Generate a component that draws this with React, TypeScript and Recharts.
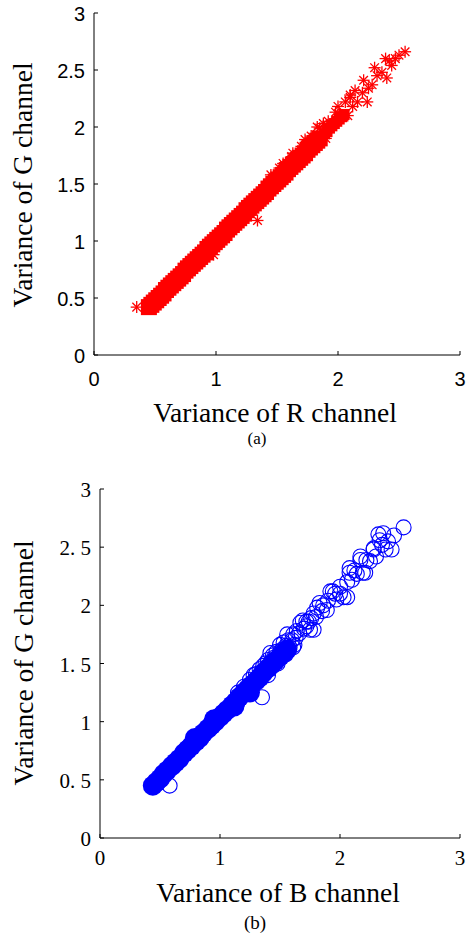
import React from 'react';
import { ScatterChart, Scatter, XAxis, YAxis } from 'recharts';

// ---------- data ----------
const axisTicks = [0, 0.5, 1, 1.5, 2, 2.5, 3];
const xTicks = [0, 1, 2, 3];

const labelA_x = 'Variance of R channel';
const labelB_x = 'Variance of B channel';
const labelY = 'Variance of G channel';
const captionA = '(a)';
const captionB = '(b)';

// (a) R vs G: dense core of the cloud
const redDense = [
  { x: 0.45, y: 0.42 }, { x: 0.47, y: 0.44 }, { x: 0.49, y: 0.46 }, { x: 0.51, y: 0.48 },
  { x: 0.53, y: 0.5 }, { x: 0.55, y: 0.52 }, { x: 0.57, y: 0.54 }, { x: 0.59, y: 0.57 },
  { x: 0.61, y: 0.59 }, { x: 0.63, y: 0.61 }, { x: 0.65, y: 0.63 }, { x: 0.67, y: 0.65 },
  { x: 0.69, y: 0.67 }, { x: 0.71, y: 0.69 }, { x: 0.73, y: 0.71 }, { x: 0.75, y: 0.74 },
  { x: 0.77, y: 0.76 }, { x: 0.79, y: 0.78 }, { x: 0.81, y: 0.8 }, { x: 0.83, y: 0.82 },
  { x: 0.85, y: 0.84 }, { x: 0.87, y: 0.86 }, { x: 0.89, y: 0.88 }, { x: 0.91, y: 0.9 },
  { x: 0.93, y: 0.93 }, { x: 0.95, y: 0.95 }, { x: 0.97, y: 0.97 }, { x: 0.99, y: 0.99 },
  { x: 1.01, y: 1.01 }, { x: 1.03, y: 1.03 }, { x: 1.05, y: 1.05 }, { x: 1.07, y: 1.07 },
  { x: 1.09, y: 1.1 }, { x: 1.11, y: 1.12 }, { x: 1.13, y: 1.14 }, { x: 1.15, y: 1.16 },
  { x: 1.17, y: 1.18 }, { x: 1.19, y: 1.2 }, { x: 1.21, y: 1.22 }, { x: 1.23, y: 1.24 },
  { x: 1.25, y: 1.27 }, { x: 1.27, y: 1.29 }, { x: 1.29, y: 1.31 }, { x: 1.31, y: 1.33 },
  { x: 1.33, y: 1.35 }, { x: 1.35, y: 1.37 }, { x: 1.37, y: 1.39 }, { x: 1.39, y: 1.41 },
  { x: 1.41, y: 1.43 }, { x: 1.43, y: 1.46 }, { x: 1.45, y: 1.48 }, { x: 1.47, y: 1.5 },
  { x: 1.49, y: 1.52 }, { x: 1.51, y: 1.54 }, { x: 1.53, y: 1.56 }, { x: 1.55, y: 1.58 },
  { x: 1.57, y: 1.6 }, { x: 1.59, y: 1.63 }, { x: 1.61, y: 1.65 }, { x: 1.63, y: 1.67 },
  { x: 1.65, y: 1.69 }, { x: 1.67, y: 1.71 }, { x: 1.69, y: 1.73 }, { x: 1.71, y: 1.75 },
  { x: 1.73, y: 1.77 }, { x: 1.75, y: 1.8 }, { x: 1.77, y: 1.82 }, { x: 1.79, y: 1.84 },
  { x: 1.81, y: 1.86 }, { x: 1.83, y: 1.88 }, { x: 1.85, y: 1.9 },
];
const redDenseUpper = [
  { x: 1.87, y: 1.92 }, { x: 1.89, y: 1.94 }, { x: 1.91, y: 1.96 }, { x: 1.93, y: 1.99 },
  { x: 1.95, y: 2.01 }, { x: 1.97, y: 2.03 }, { x: 1.99, y: 2.05 }, { x: 2.01, y: 2.07 },
  { x: 2.03, y: 2.09 }, { x: 2.05, y: 2.11 },
];
const redSparse = [
  { x: 0.35, y: 0.42 }, { x: 0.98, y: 0.88 }, { x: 1.34, y: 1.18 },
  { x: 1.45, y: 1.58 }, { x: 1.52, y: 1.64 }, { x: 1.55, y: 1.68 }, { x: 1.58, y: 1.62 },
  { x: 1.62, y: 1.74 }, { x: 1.63, y: 1.77 }, { x: 1.68, y: 1.74 }, { x: 1.7, y: 1.83 },
  { x: 1.73, y: 1.89 }, { x: 1.78, y: 1.92 }, { x: 1.83, y: 2.0 }, { x: 1.85, y: 1.99 },
  { x: 1.88, y: 2.03 }, { x: 1.9, y: 1.9 }, { x: 1.92, y: 2.05 }, { x: 1.98, y: 2.13 },
  { x: 2.0, y: 2.18 }, { x: 2.04, y: 2.09 }, { x: 2.06, y: 2.22 }, { x: 2.08, y: 2.1 },
  { x: 2.1, y: 2.28 }, { x: 2.1, y: 2.26 }, { x: 2.12, y: 2.18 }, { x: 2.14, y: 2.32 },
  { x: 2.16, y: 2.22 }, { x: 2.2, y: 2.3 }, { x: 2.21, y: 2.41 }, { x: 2.24, y: 2.22 },
  { x: 2.25, y: 2.34 }, { x: 2.28, y: 2.37 }, { x: 2.3, y: 2.52 }, { x: 2.32, y: 2.45 },
  { x: 2.36, y: 2.48 }, { x: 2.39, y: 2.6 }, { x: 2.4, y: 2.43 }, { x: 2.42, y: 2.58 },
  { x: 2.44, y: 2.54 }, { x: 2.47, y: 2.6 }, { x: 2.5, y: 2.63 }, { x: 2.55, y: 2.66 },
];

// (b) B vs G
const blueDense = [
  { x: 0.44, y: 0.45 }, { x: 0.47, y: 0.48 }, { x: 0.5, y: 0.51 }, { x: 0.53, y: 0.55 },
  { x: 0.56, y: 0.58 }, { x: 0.6, y: 0.62 }, { x: 0.63, y: 0.65 }, { x: 0.66, y: 0.68 },
  { x: 0.7, y: 0.73 }, { x: 0.73, y: 0.76 }, { x: 0.76, y: 0.79 }, { x: 0.79, y: 0.86 },
  { x: 0.8, y: 0.83 }, { x: 0.83, y: 0.86 }, { x: 0.86, y: 0.9 }, { x: 0.9, y: 0.94 },
  { x: 0.93, y: 0.97 }, { x: 0.95, y: 1.02 }, { x: 0.96, y: 1.0 }, { x: 1.0, y: 1.04 },
  { x: 1.03, y: 1.07 }, { x: 1.06, y: 1.1 }, { x: 1.1, y: 1.14 }, { x: 1.12, y: 1.13 },
  { x: 1.13, y: 1.17 }, { x: 1.16, y: 1.21 }, { x: 1.2, y: 1.25 }, { x: 1.23, y: 1.28 },
  { x: 1.25, y: 1.25 }, { x: 1.26, y: 1.31 }, { x: 1.3, y: 1.35 }, { x: 1.33, y: 1.38 },
  { x: 1.36, y: 1.42 }, { x: 1.4, y: 1.46 }, { x: 1.43, y: 1.49 }, { x: 1.46, y: 1.52 },
  { x: 1.5, y: 1.56 }, { x: 1.53, y: 1.59 }, { x: 1.56, y: 1.62 },
];
const blueSparse = [
  { x: 0.58, y: 0.45 }, { x: 1.35, y: 1.21 }, { x: 1.15, y: 1.25 }, { x: 1.2, y: 1.3 },
  { x: 1.25, y: 1.36 }, { x: 1.28, y: 1.4 }, { x: 1.3, y: 1.41 }, { x: 1.33, y: 1.45 },
  { x: 1.36, y: 1.48 }, { x: 1.38, y: 1.5 }, { x: 1.4, y: 1.4 }, { x: 1.4, y: 1.53 },
  { x: 1.42, y: 1.59 }, { x: 1.44, y: 1.57 }, { x: 1.45, y: 1.55 }, { x: 1.47, y: 1.6 },
  { x: 1.48, y: 1.5 }, { x: 1.5, y: 1.6 }, { x: 1.5, y: 1.66 }, { x: 1.52, y: 1.62 },
  { x: 1.53, y: 1.68 }, { x: 1.55, y: 1.58 }, { x: 1.55, y: 1.65 }, { x: 1.56, y: 1.75 },
  { x: 1.57, y: 1.7 }, { x: 1.58, y: 1.64 }, { x: 1.6, y: 1.7 }, { x: 1.61, y: 1.75 },
  { x: 1.61, y: 1.64 }, { x: 1.62, y: 1.66 }, { x: 1.63, y: 1.72 }, { x: 1.64, y: 1.78 },
  { x: 1.66, y: 1.76 }, { x: 1.67, y: 1.85 }, { x: 1.69, y: 1.87 }, { x: 1.7, y: 1.8 },
  { x: 1.72, y: 1.86 }, { x: 1.72, y: 1.82 }, { x: 1.74, y: 1.86 }, { x: 1.75, y: 1.79 },
  { x: 1.76, y: 1.89 }, { x: 1.78, y: 1.93 }, { x: 1.78, y: 1.79 }, { x: 1.8, y: 1.9 },
  { x: 1.81, y: 1.98 }, { x: 1.83, y: 2.02 }, { x: 1.85, y: 1.95 }, { x: 1.86, y: 2.0 },
  { x: 1.89, y: 1.96 }, { x: 1.9, y: 2.04 }, { x: 1.92, y: 2.12 }, { x: 1.94, y: 2.12 },
  { x: 1.96, y: 2.1 }, { x: 1.97, y: 2.05 }, { x: 2.0, y: 2.16 }, { x: 2.0, y: 2.1 },
  { x: 2.03, y: 2.07 }, { x: 2.06, y: 2.2 }, { x: 2.06, y: 2.07 }, { x: 2.08, y: 2.28 },
  { x: 2.08, y: 2.32 }, { x: 2.1, y: 2.22 }, { x: 2.12, y: 2.3 }, { x: 2.14, y: 2.27 },
  { x: 2.17, y: 2.39 }, { x: 2.17, y: 2.42 }, { x: 2.19, y: 2.28 }, { x: 2.21, y: 2.28 },
  { x: 2.22, y: 2.39 }, { x: 2.25, y: 2.38 }, { x: 2.28, y: 2.48 }, { x: 2.28, y: 2.49 },
  { x: 2.3, y: 2.42 }, { x: 2.32, y: 2.61 }, { x: 2.33, y: 2.56 }, { x: 2.35, y: 2.52 },
  { x: 2.36, y: 2.62 }, { x: 2.38, y: 2.48 }, { x: 2.4, y: 2.55 }, { x: 2.43, y: 2.48 },
  { x: 2.45, y: 2.6 }, { x: 2.53, y: 2.67 },
];

// ---------- styles ----------
const SANS = '"Liberation Sans", Arial, sans-serif';
const SERIF = '"Liberation Serif", "Times New Roman", serif';
const RED = '#ff0000';
const BLUE = '#0000ff';
const TL = 4;

const fmtA = (v: number) => String(v);
const fmtB = (v: number) => String(v).replace('.', '. ');

const bottomTick = (font: string, size: number, dy: number, fmt: (v: number) => string) => (p: any) => (
  <g>
    <line x1={p.x} y1={p.y} x2={p.x} y2={p.y - TL} stroke="#000" strokeWidth={1} />
    <text x={p.x} y={p.y + dy} textAnchor="middle" fontFamily={font} fontSize={size} fill="#000">
      {fmt(p.payload.value)}
    </text>
  </g>
);
const leftTick = (font: string, size: number, dx: number, fmt: (v: number) => string) => (p: any) => (
  <g>
    <line x1={p.x} y1={p.y} x2={p.x + TL} y2={p.y} stroke="#000" strokeWidth={1} />
    <text x={p.x - dx} y={p.y + 8} textAnchor="end" fontFamily={font} fontSize={size} fill="#000">
      {fmt(p.payload.value)}
    </text>
  </g>
);
const topTick = (p: any) => (
  <line x1={p.x} y1={p.y} x2={p.x} y2={p.y + TL} stroke="#000" strokeWidth={1} />
);
const rightTick = (p: any) => (
  <line x1={p.x} y1={p.y} x2={p.x - TL} y2={p.y} stroke="#000" strokeWidth={1} />
);

const Asterisk = (p: any) => {
  const { cx, cy } = p;
  const r = 6;
  const d = r * 0.72;
  return (
    <g stroke={RED} strokeWidth={1.3} fill="none">
      <line x1={cx - r} y1={cy} x2={cx + r} y2={cy} />
      <line x1={cx} y1={cy - r} x2={cx} y2={cy + r} />
      <line x1={cx - d} y1={cy - d} x2={cx + d} y2={cy + d} />
      <line x1={cx - d} y1={cy + d} x2={cx + d} y2={cy - d} />
    </g>
  );
};
const redBlock = (s: number) => (p: any) => (
  <rect x={p.cx - s / 2} y={p.cy - s / 2} width={s} height={s} fill={RED} />
);
const OpenCircle = (p: any) => (
  <circle cx={p.cx} cy={p.cy} r={7.5} fill="none" stroke={BLUE} strokeWidth={1.1} />
);
const FilledCircle = (p: any) => <circle cx={p.cx} cy={p.cy} r={10} fill={BLUE} />;

const axisLine = { stroke: '#000', strokeWidth: 1 };

function Panel(props: {
  width: number; height: number; margin: any; yWidth: number; xHeight: number;
  tickFont: string; tickSize: number; xDy: number; fmt: (v: number) => string;
  xLabel: string; xLabelX: number; xLabelY: number; yLabelX: number; yLabelY: number;
  caption: string; capX: number; capY: number; capSize: number;
  children: React.ReactNode;
}) {
  const p = props;
  return (
    <ScatterChart width={p.width} height={p.height} margin={p.margin}>
      <XAxis
        type="number" dataKey="x" domain={[0, 3]} ticks={xTicks} interval={0}
        height={p.xHeight} tickSize={0} tickMargin={0} tickLine={false} axisLine={axisLine}
        tick={bottomTick(p.tickFont, p.tickSize, p.xDy, p.fmt)} allowDataOverflow
        label={{
          content: () => (
            <g>
              <text x={p.xLabelX} y={p.xLabelY} textAnchor="middle" fontFamily={SERIF} fontSize={27.5} fill="#000">
                {p.xLabel}
              </text>
              <text x={p.capX} y={p.capY} textAnchor="middle" fontFamily={SERIF} fontSize={p.capSize} fill="#000">
                {p.caption}
              </text>
            </g>
          ),
        }}
      />
      <XAxis
        xAxisId="top" orientation="top" type="number" domain={[0, 3]} ticks={xTicks} interval={0}
        height={0} tickSize={0} tickMargin={0} tickLine={false} axisLine={axisLine} tick={topTick}
      />
      <YAxis
        type="number" dataKey="y" domain={[0, 3]} ticks={axisTicks} interval={0}
        width={p.yWidth} tickSize={0} tickMargin={0} tickLine={false} axisLine={axisLine}
        tick={leftTick(p.tickFont, p.tickSize, 9, p.fmt)} allowDataOverflow
        label={{
          content: () => (
            <text
              x={p.yLabelX} y={p.yLabelY} textAnchor="middle" fontFamily={SERIF} fontSize={27.5} fill="#000"
              transform={`rotate(-90, ${p.yLabelX}, ${p.yLabelY})`}
            >
              {labelY}
            </text>
          ),
        }}
      />
      <YAxis
        yAxisId="right" orientation="right" type="number" domain={[0, 3]} ticks={axisTicks} interval={0}
        width={0} tickSize={0} tickMargin={0} tickLine={false} axisLine={axisLine} tick={rightTick}
      />
      {p.children}
    </ScatterChart>
  );
}

export default function App() {
  return (
    <div style={{ position: 'absolute', left: 0, top: 0, width: 469, height: 939, background: '#fff' }}>
      <div style={{ position: 'absolute', left: 0, top: 0 }}>
        <Panel
          width={469} height={460} margin={{ top: 13, right: 9, left: 0, bottom: 0 }}
          yWidth={94} xHeight={105} tickFont={SANS} tickSize={20} xDy={31} fmt={fmtA}
          xLabel={labelA_x} xLabelX={275} xLabelY={422} yLabelX={32} yLabelY={185}
          caption={captionA} capX={257} capY={444} capSize={17}
        >
          <Scatter data={redDense} isAnimationActive={false} shape={redBlock(16)} />
          <Scatter data={redDenseUpper} isAnimationActive={false} shape={redBlock(11)} />
          <Scatter data={redSparse} isAnimationActive={false} shape={Asterisk} />
        </Panel>
      </div>
      <div style={{ position: 'absolute', left: 0, top: 460 }}>
        <Panel
          width={469} height={479} margin={{ top: 29, right: 9, left: 0, bottom: 0 }}
          yWidth={100} xHeight={101} tickFont={SERIF} tickSize={21} xDy={27} fmt={fmtB}
          xLabel={labelB_x} xLabelX={278} xLabelY={442} yLabelX={33} yLabelY={203}
          caption={captionB} capX={255} capY={469} capSize={19}
        >
          <Scatter data={blueDense} isAnimationActive={false} shape={FilledCircle} />
          <Scatter data={blueSparse} isAnimationActive={false} shape={OpenCircle} />
        </Panel>
      </div>
    </div>
  );
}
